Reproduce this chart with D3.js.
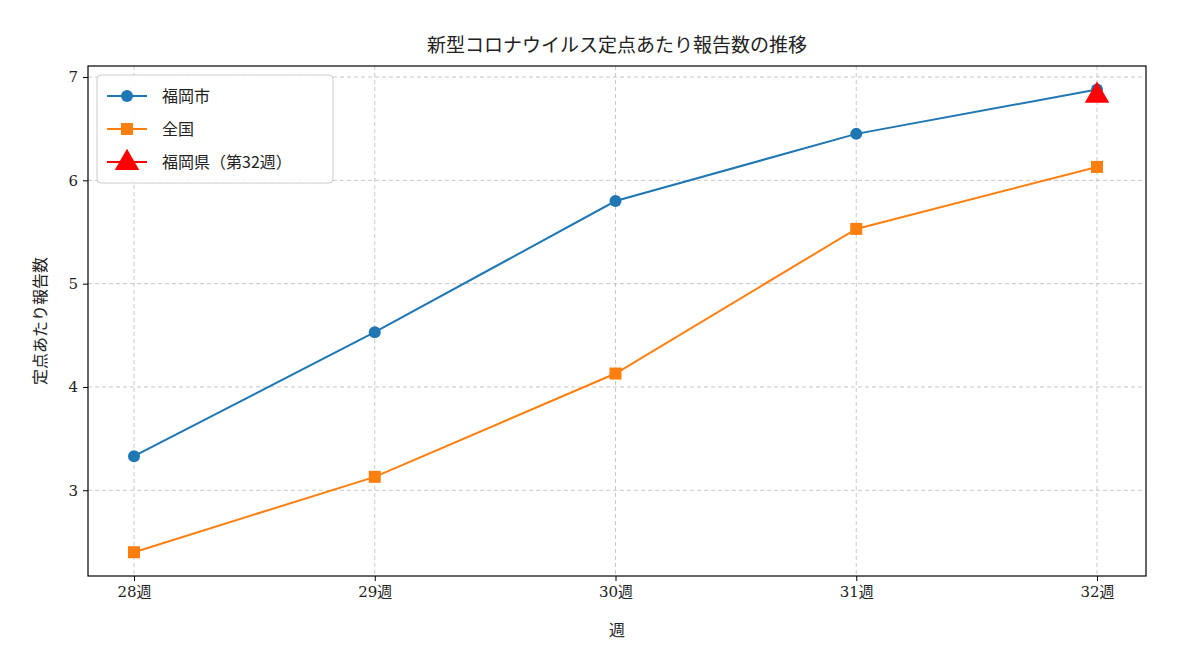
<!DOCTYPE html>
<html><head><meta charset="utf-8">
<script src="https://cdn.jsdelivr.net/npm/d3@7"></script>
<style>
body{margin:0;background:#fff;}
text{font-family:"DejaVu Serif","Noto Sans CJK JP",sans-serif;}
.grid line{stroke:#b0b0b0;stroke-dasharray:4,3;stroke-opacity:0.7;}
</style></head><body>
<script>
var weeks = ["28週", "29週", "30週", "31週", "32週"];
var cityValues = [3.33, 4.53, 5.80, 6.45, 6.88];
var nationValues = [2.40, 3.13, 4.13, 5.53, 6.13];
var prefValue = [{week: "32週", value: 6.83}];
var yTicks = [3, 4, 5, 6, 7];

(function () {
var width = 1200, height = 650;
var pLeft = 88, pRight = 1146, pTop = 66, pBottom = 576;
var svg = d3.select("body").append("svg").attr("width", width).attr("height", height);

var x = d3.scalePoint().domain(weeks).range([134, 1097]);
var y = d3.scaleLinear().domain([2.17, 7.107]).range([pBottom, pTop]);

//grid
var g = svg.append("g").attr("class", "grid");
g.selectAll(".vx").data(weeks).enter().append("line")
  .attr("x1", d => x(d)).attr("x2", d => x(d)).attr("y1", pTop).attr("y2", pBottom);
g.selectAll(".hy").data(yTicks).enter().append("line")
  .attr("x1", pLeft).attr("x2", pRight).attr("y1", d => y(d)).attr("y2", d => y(d));

//axes
svg.append("g").attr("transform", "translate(0," + pBottom + ")")
  .call(d3.axisBottom(x).tickSize(5).tickPadding(5))
  .call(a => a.select(".domain").remove())
  .selectAll("text").attr("font-size", 15).attr("fill", "#222");
svg.append("g").attr("transform", "translate(" + pLeft + ",0)")
  .call(d3.axisLeft(y).tickValues(yTicks).tickFormat(d3.format("d")).tickSize(5).tickPadding(5))
  .call(a => a.select(".domain").remove())
  .selectAll("text").attr("font-size", 15).attr("fill", "#222");
svg.append("rect").attr("x", pLeft).attr("y", pTop).attr("width", pRight - pLeft).attr("height", pBottom - pTop)
  .attr("fill", "none").attr("stroke", "#000").attr("stroke-width", 1.2);

//lines
var line = d3.line().x((d, i) => x(weeks[i])).y(d => y(d));
svg.append("path").datum(cityValues).attr("d", line).attr("fill", "none").attr("stroke", "#1f77b4").attr("stroke-width", 2);
svg.selectAll(".cp").data(cityValues).enter().append("circle")
  .attr("cx", (d, i) => x(weeks[i])).attr("cy", d => y(d)).attr("r", 6).attr("fill", "#1f77b4");
svg.append("path").datum(nationValues).attr("d", line).attr("fill", "none").attr("stroke", "#ff7f0e").attr("stroke-width", 2);
svg.selectAll(".np").data(nationValues).enter().append("rect")
  .attr("x", (d, i) => x(weeks[i]) - 6).attr("y", d => y(d) - 6).attr("width", 12).attr("height", 12).attr("fill", "#ff7f0e");
var tri = d3.symbol().type(d3.symbolTriangle).size(260);
svg.selectAll(".pp").data(prefValue).enter().append("path")
  .attr("d", tri).attr("transform", d => "translate(" + x(d.week) + "," + (y(d.value) + 1) + ")").attr("fill", "red");

//titles
svg.append("text").attr("x", (pLeft + pRight) / 2).attr("y", 52).attr("text-anchor", "middle")
  .attr("font-size", 19).attr("fill", "#222").text("新型コロナウイルス定点あたり報告数の推移");
svg.append("text").attr("x", (pLeft + pRight) / 2).attr("y", 636).attr("text-anchor", "middle")
  .attr("font-size", 16).attr("fill", "#222").text("週");
svg.append("text").attr("transform", "translate(46," + ((pTop + pBottom) / 2) + ") rotate(-90)")
  .attr("text-anchor", "middle").attr("font-size", 16).attr("fill", "#222").text("定点あたり報告数");

//legend
var lg = svg.append("g");
lg.append("rect").attr("x", 97).attr("y", 75).attr("width", 236).attr("height", 108).attr("rx", 4)
  .attr("fill", "#fff").attr("fill-opacity", 0.85).attr("stroke", "#ccc");
var items = [
  {label: "福岡市", color: "#1f77b4", shape: "circle"},
  {label: "全国", color: "#ff7f0e", shape: "square"},
  {label: "福岡県（第32週）", color: "red", shape: "triangle"}
];
items.forEach(function (it, i) {
  var cy = 96 + i * 33;
  lg.append("line").attr("x1", 107).attr("x2", 147).attr("y1", cy).attr("y2", cy).attr("stroke", it.color).attr("stroke-width", 2);
  if (it.shape == "circle") lg.append("circle").attr("cx", 127).attr("cy", cy).attr("r", 6).attr("fill", it.color);
  else if (it.shape == "square") lg.append("rect").attr("x", 121).attr("y", cy - 6).attr("width", 12).attr("height", 12).attr("fill", it.color);
  else lg.append("path").attr("d", tri).attr("transform", "translate(127," + (cy + 1) + ")").attr("fill", it.color);
  lg.append("text").attr("x", 162).attr("y", cy + 6).attr("font-size", 16).attr("fill", "#222")
    .style("font-family", "'Noto Sans CJK JP',sans-serif").text(it.label);
});
})();
</script>
</body></html>
